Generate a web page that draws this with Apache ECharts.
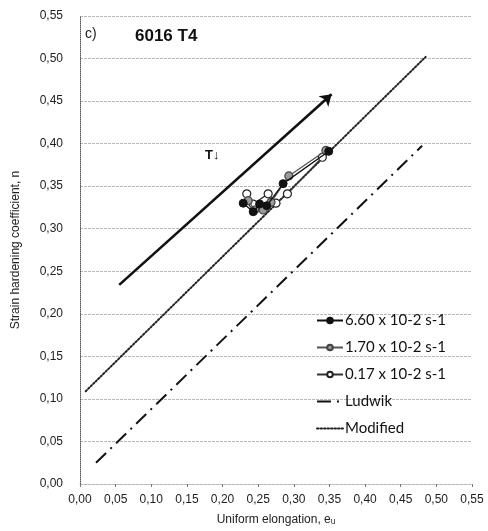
<!DOCTYPE html>
<html>
<head>
<meta charset="utf-8">
<script src="https://cdn.jsdelivr.net/npm/echarts@6/dist/echarts.min.js"></script>
<style>
  html, body { margin: 0; padding: 0; background: #fff; }
  #chart { width: 488px; height: 531px; }
</style>
</head>
<body>
<div id="chart"></div>
<script>
// Axis ranges and tick step (both axes share the same 0,00 – 0,55 scale)
const axisMin = 0;
const axisMax = 0.55;
const axisStep = 0.05;

// Measured strain hardening coefficient n vs uniform elongation e_u, per strain rate
const eu660 = [0.229, 0.243, 0.252, 0.262, 0.285, 0.349];
const n660  = [0.330, 0.320, 0.329, 0.327, 0.353, 0.391];

const eu170 = [0.236, 0.245, 0.257, 0.268, 0.293, 0.345];
const n170  = [0.333, 0.322, 0.322, 0.331, 0.362, 0.392];

const eu017 = [0.234, 0.243, 0.264, 0.275, 0.291, 0.340];
const n017  = [0.341, 0.329, 0.341, 0.330, 0.341, 0.384];

// Model lines (end points)
const euLudwik = [0.0225, 0.480];
const nLudwik  = [0.025, 0.3975];
const euModified = [0.008, 0.485];
const nModified  = [0.109, 0.502];

// Temperature trend arrow (start, end)
const euArrow = [0.055, 0.353];
const nArrow  = [0.234, 0.458];

const seriesNames = ['6.60 x 10-2 s-1', '1.70 x 10-2 s-1', '0.17 x 10-2 s-1', 'Ludwik', 'Modified'];

const pairs = (xs, ys) => xs.map((x, i) => [x, ys[i]]);
const comma = v => v.toFixed(2).replace('.', ',');

const chart = echarts.init(document.getElementById('chart'));

chart.setOption({
  animation: false,
  backgroundColor: '#fff',
  grid: { left: 80, right: 16, top: 16, bottom: 44, containLabel: false },
  xAxis: {
    type: 'value', min: axisMin, max: axisMax, interval: axisStep,
    name: 'Uniform elongation, e\u1D64',
    nameLocation: 'middle', nameGap: 30,
    nameTextStyle: { fontFamily: 'Liberation Sans', fontSize: 12, color: '#222' },
    axisLine: { show: true, lineStyle: { color: '#bbb', width: 1, type: 'dotted' } },
    axisTick: { show: true, inside: false, length: 3, lineStyle: { color: '#777' } },
    axisLabel: { formatter: comma, fontFamily: 'Liberation Sans', fontSize: 12, color: '#222', margin: 10 },
    splitLine: { show: false }
  },
  yAxis: {
    type: 'value', min: axisMin, max: axisMax, interval: axisStep,
    name: 'Strain hardening coefficient, n',
    nameLocation: 'middle', nameGap: 58,
    nameTextStyle: { fontFamily: 'Liberation Sans', fontSize: 12, color: '#222' },
    axisLine: { show: true, lineStyle: { color: '#555', width: 1, type: 'dotted' } },
    axisTick: { show: false },
    axisLabel: { formatter: comma, fontFamily: 'Liberation Sans', fontSize: 12, color: '#222', margin: 17 },
    splitLine: { show: true, lineStyle: { color: '#b8b8b8', width: 1, type: [3, 1] } }
  },
  legend: {
    orient: 'vertical', left: 311, top: 308,
    itemWidth: 26, itemHeight: 7, itemGap: 12,
    data: seriesNames,
    textStyle: { fontFamily: 'Lato', fontSize: 15, color: '#111', padding: [0, 0, 0, -3] }
  },
  graphic: [
    { type: 'text', left: 85, top: 27, style: { text: 'c)', font: '14px "Liberation Sans"', fill: '#222' } },
    { type: 'text', left: 135, top: 28, style: { text: '6016 T4', font: 'bold 17px "Liberation Sans"', fill: '#111' } },
    { type: 'text', left: 205, top: 149, style: { text: 'T\u2193', font: 'bold 13px "Liberation Sans"', fill: '#111' } }
  ],
  series: [
    {
      name: 'Ludwik', type: 'line', data: pairs(euLudwik, nLudwik), symbol: 'none',
      itemStyle: { color: 'rgba(0,0,0,0)' },
      lineStyle: { color: '#111', width: 2, type: [14, 6, 2, 6] }, z: 2
    },
    {
      name: 'Modified', type: 'line', data: pairs(euModified, nModified), symbol: 'none',
      itemStyle: { color: 'rgba(0,0,0,0)' },
      lineStyle: { color: '#222', width: 2, type: [1.5, 2], cap: 'round' }, z: 2
    },
    {
      name: '0.17 x 10-2 s-1', type: 'line', data: pairs(eu017, n017),
      symbol: 'circle', symbolSize: 8,
      lineStyle: { color: '#333', width: 1.3 },
      itemStyle: { color: '#fff', borderColor: '#222', borderWidth: 1.2 }, z: 3
    },
    {
      name: '1.70 x 10-2 s-1', type: 'line', data: pairs(eu170, n170),
      symbol: 'circle', symbolSize: 8,
      lineStyle: { color: '#555', width: 1.3 },
      itemStyle: { color: '#9a9a9a', borderColor: '#444', borderWidth: 1.2 }, z: 4
    },
    {
      name: '6.60 x 10-2 s-1', type: 'line', data: pairs(eu660, n660),
      symbol: 'circle', symbolSize: 8,
      lineStyle: { color: '#111', width: 1.3 },
      itemStyle: { color: '#111', borderColor: '#111', borderWidth: 1 }, z: 5
    },
    {
      name: 'trend', type: 'lines', coordinateSystem: 'cartesian2d',
      symbol: ['none', 'arrow'], symbolSize: 11,
      lineStyle: { color: '#111', width: 2.6, opacity: 1 },
      data: [{ coords: pairs(euArrow, nArrow) }], z: 6
    }
  ]
});
</script>
</body>
</html>
